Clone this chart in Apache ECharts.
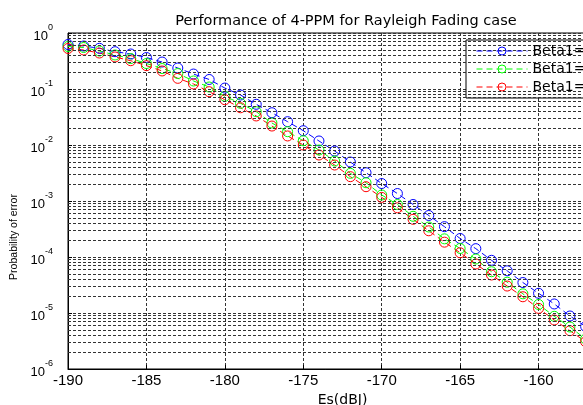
<!DOCTYPE html>
<html>
<head>
<meta charset="utf-8">
<title>Performance of 4-PPM for Rayleigh Fading case</title>
<script src="https://cdn.jsdelivr.net/npm/echarts@6/dist/echarts.min.js"></script>
<style>
html,body{margin:0;padding:0;background:#fff;}
#main{width:583px;height:405px;}
</style>
</head>
<body>
<div id="main"></div>
<script>
// Es in dBJ, one point per dB (the plot is cut off on the right at about -157)
var esdB = [-190, -189, -188, -187, -186, -185, -184, -183, -182, -181,
            -180, -179, -178, -177, -176, -175, -174, -173, -172, -171,
            -170, -169, -168, -167, -166, -165, -164, -163, -162, -161,
            -160, -159, -158, -157];

// probability of error
var peBlue = [0.623, 0.586, 0.533, 0.464, 0.422, 0.365, 0.303, 0.237, 0.185, 0.148,
              0.104, 0.0781, 0.0533, 0.0377, 0.0261, 0.0180, 0.0118, 0.00781, 0.00497, 0.00320,
              0.00205, 0.00136, 8.66e-4, 5.51e-4, 3.48e-4, 2.14e-4, 1.41e-4, 8.73e-5, 5.67e-5, 3.50e-5,
              2.25e-5, 1.45e-5, 8.84e-6, 5.74e-6];
var peGreen = [0.574, 0.551, 0.477, 0.405, 0.350, 0.285, 0.232, 0.189, 0.139, 0.1086,
               0.0741, 0.0555, 0.0393, 0.0247, 0.0173, 0.0119, 0.00814, 0.00518, 0.00312, 0.00212,
               0.00128, 8.66e-4, 5.33e-4, 3.43e-4, 2.11e-4, 1.42e-4, 9.21e-5, 5.46e-5, 3.55e-5, 2.20e-5,
               1.42e-5, 8.73e-6, 5.62e-6, 3.43e-6];
var peRed = [0.529, 0.497, 0.439, 0.373, 0.320, 0.261, 0.210, 0.155, 0.123, 0.0895,
             0.0644, 0.0462, 0.0330, 0.0218, 0.0145, 0.0100, 0.00663, 0.00439, 0.00272, 0.00180,
             0.00116, 7.56e-4, 4.71e-4, 2.94e-4, 1.84e-4, 1.19e-4, 7.50e-5, 4.77e-5, 3.03e-5, 1.95e-5,
             1.21e-5, 7.50e-6, 4.83e-6, 3.07e-6];

var seriesNames = ['Beta1=0.25', 'Beta1=0.5', 'Beta1=1'];
var seriesColors = ['#0000ff', '#00ff00', '#ff0000'];

// minor grid of the log axis: 2..9 x 10^n
var minorGrid = [];
for (var n = -6; n < 0; n++) {
    for (var k = 2; k <= 9; k++) {
        minorGrid.push(+(k * Math.pow(10, n)).toPrecision(3));
    }
}

var wide = 'DejaVu Sans, Liberation Sans, sans-serif';
var arial = 'Liberation Sans, Arial, sans-serif';
var gridDash = [3, 2];

function pairs(ys) {
    var out = [];
    for (var i = 0; i < ys.length; i++) out.push([esdB[i], ys[i]]);
    return out;
}

function curve(name, color, ys) {
    return {
        name: name,
        type: 'line',
        data: pairs(ys),
        symbol: 'circle',
        symbolSize: 10,
        showAllSymbol: true,
        z: 3,
        lineStyle: {color: color, width: 1, type: [6, 4]},
        itemStyle: {color: 'rgba(0,0,0,0)', borderColor: color, borderWidth: 1},
        emphasis: {disabled: true}
    };
}

var chart = echarts.init(document.getElementById('main'));
chart.setOption({
    animation: false,
    backgroundColor: '#fff',
    title: {
        text: 'Performance of 4-PPM for Rayleigh Fading case',
        left: 341,
        top: 9,
        textAlign: 'center',
        textStyle: {fontFamily: wide, fontSize: 14.5, fontWeight: 'normal', color: '#000'}
    },
    grid: {
        left: 68, top: 33, width: 549, height: 336,
        outerBoundsMode: 'none',
        containLabel: false,
        show: true, borderColor: '#000', borderWidth: 1, backgroundColor: '#fff'
    },
    // legend frame runs off the right edge like in the original figure
    graphic: [{
        type: 'rect',
        z: 5,
        silent: true,
        shape: {x: 466, y: 40, width: 160, height: 58},
        style: {fill: '#fff', stroke: '#000', lineWidth: 1}
    }],
    legend: {
        data: seriesNames,
        left: 466, top: 40,
        z: 6,
        orient: 'vertical',
        padding: [4, 10, 4, 10],
        itemGap: 4,
        itemWidth: 51,
        itemHeight: 10,
        borderWidth: 0,
        backgroundColor: 'transparent',
        lineStyle: {width: 1},
        itemStyle: {borderWidth: 1},
        textStyle: {fontFamily: wide, fontSize: 14, color: '#000', width: 90, overflow: 'none'}
    },
    xAxis: {
        type: 'value',
        min: -190, max: -155, interval: 5,
        name: 'Es(dBJ)',
        nameLocation: 'middle',
        nameGap: 16,
        nameTextStyle: {fontFamily: wide, fontSize: 14, color: '#000'},
        axisLine: {lineStyle: {color: '#000', width: 1}},
        axisTick: {inside: true, length: 4, lineStyle: {color: '#000'}},
        axisLabel: {fontFamily: arial, fontSize: 15, color: '#000', margin: 4},
        splitLine: {show: true, lineStyle: {color: '#333', width: 1, type: gridDash}}
    },
    yAxis: {
        type: 'log',
        logBase: 10,
        min: 1e-6, max: 1, interval: 1,
        name: 'Probability of error',
        nameLocation: 'middle',
        nameGap: 37,
        nameTextStyle: {fontFamily: arial, fontSize: 10.5, color: '#000', padding: [0, 72, 0, 0]},
        axisLine: {lineStyle: {color: '#000', width: 1}},
        axisTick: {inside: true, length: 4, lineStyle: {color: '#000'}},
        axisLabel: {
            margin: 15,
            formatter: function (v) {
                var e = Math.round(Math.log(v) / Math.LN10);
                return '{b|10}{s|' + e + '}';
            },
            rich: {
                b: {fontFamily: arial, fontSize: 13, color: '#000', verticalAlign: 'bottom', lineHeight: 19},
                s: {fontFamily: arial, fontSize: 9, color: '#000', verticalAlign: 'top', lineHeight: 19}
            }
        },
        splitLine: {show: true, lineStyle: {color: '#333', width: 1, type: gridDash}}
    },
    series: [
        {
            name: 'grid',
            type: 'line',
            data: [],
            z: 1,
            silent: true,
            markLine: {
                silent: true,
                symbol: 'none',
                precision: 10,
                label: {show: false},
                animation: false,
                lineStyle: {color: '#333', width: 1, type: gridDash},
                data: minorGrid.map(function (v) { return {yAxis: v}; })
            }
        },
        curve(seriesNames[0], seriesColors[0], peBlue),
        curve(seriesNames[1], seriesColors[1], peGreen),
        curve(seriesNames[2], seriesColors[2], peRed)
    ]
});
</script>
</body>
</html>
